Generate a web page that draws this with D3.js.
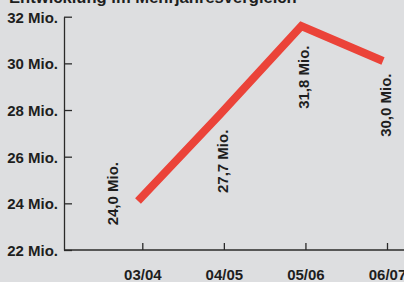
<!DOCTYPE html>
<html>
<head>
<meta charset="utf-8">
<script src="https://cdn.jsdelivr.net/npm/d3@7"></script>
<style>
  html, body { margin: 0; padding: 0; background: #dddee0; }
  svg { display: block; }
  text { font-family: "Liberation Sans Narrow", "Arial Narrow", "Liberation Sans", sans-serif; font-weight: bold; fill: #1e1e1e; }
</style>
</head>
<body>
<svg id="chart"></svg>
<script>
// seasons and audience (Mio.)
var seasons = ["03/04", "04/05", "05/06", "06/07"];
var values = [24.1, 27.8, 31.6, 30.1];   // as drawn by the line
var valueLabels = ["24,0 Mio.", "27,7 Mio.", "31,8 Mio.", "30,0 Mio."];
var labelValues = [24.0, 27.7, 31.8, 30.0];
var yTicks = [22, 24, 26, 28, 30, 32];
var title = "Entwicklung im Mehrjahresvergleich";

var width = 404;
var height = 282;

var svg = d3.select("#chart")
    .attr("width", width)
    .attr("height", height);

var x = d3.scalePoint()
    .domain(seasons)
    .range([142.3, 387]);

// the line sits a little left of the ticks in the original
var xLine = d3.scalePoint()
    .domain(seasons)
    .range([138, 383]);

var y = d3.scaleLinear()
    .domain([22, 32])
    .range([250, 16.7]);

// title, mostly cut off at the top
svg.append("text")
    .attr("x", 9)
    .attr("y", 3)
    .style("font-size", "16.6px")
    .text(title);

// y axis
var yAxis = svg.append("g")
    .attr("transform", "translate(64,0)")
    .call(d3.axisLeft(y)
        .tickValues(yTicks)
        .tickSize(-8)
        .tickSizeOuter(0)
        .tickPadding(6)
        .tickFormat(function (d) { return d + " Mio."; }));

yAxis.selectAll("text")
    .style("font-size", "15px")
    .attr("dy", "0.36em");

// x axis
var xAxis = svg.append("g")
    .attr("transform", "translate(0," + y(22) + ")")
    .call(d3.axisBottom(x)
        .tickSize(-7)
        .tickSizeOuter(0)
        .tickPadding(19));

xAxis.select(".domain").remove();
xAxis.append("line")
    .attr("x1", 64)
    .attr("x2", width)
    .attr("y1", 0)
    .attr("y2", 0);

xAxis.selectAll("text")
    .style("font-size", "15px");

svg.selectAll(".tick line, g > line")
    .attr("stroke", "#2a2a2a")
    .attr("stroke-width", 1.3);
yAxis.select(".domain")
    .attr("stroke", "#2a2a2a")
    .attr("stroke-width", 1.3);

// the line
var line = d3.line()
    .x(function (d, i) { return xLine(seasons[i]); })
    .y(function (d) { return y(d); });

svg.append("path")
    .datum(values)
    .attr("d", line)
    .attr("fill", "none")
    .attr("stroke", "#eb4339")
    .attr("stroke-width", 8)
    .attr("stroke-linejoin", "miter")
    .attr("stroke-linecap", "butt");

// rotated value labels, nudged off the line
var nudge = [[-24, 22], [4, 76], [4, 87.5], [3.5, 73.5]];

svg.selectAll(".vlabel")
    .data(labelValues)
    .enter().append("text")
    .attr("class", "vlabel")
    .attr("transform", function (d, i) {
        return "translate(" + (x(seasons[i]) + nudge[i][0]) + "," + (y(d) + nudge[i][1]) + ") rotate(-90)";
    })
    .style("font-size", "15px")
    .text(function (d, i) { return valueLabels[i]; });
</script>
</body>
</html>
